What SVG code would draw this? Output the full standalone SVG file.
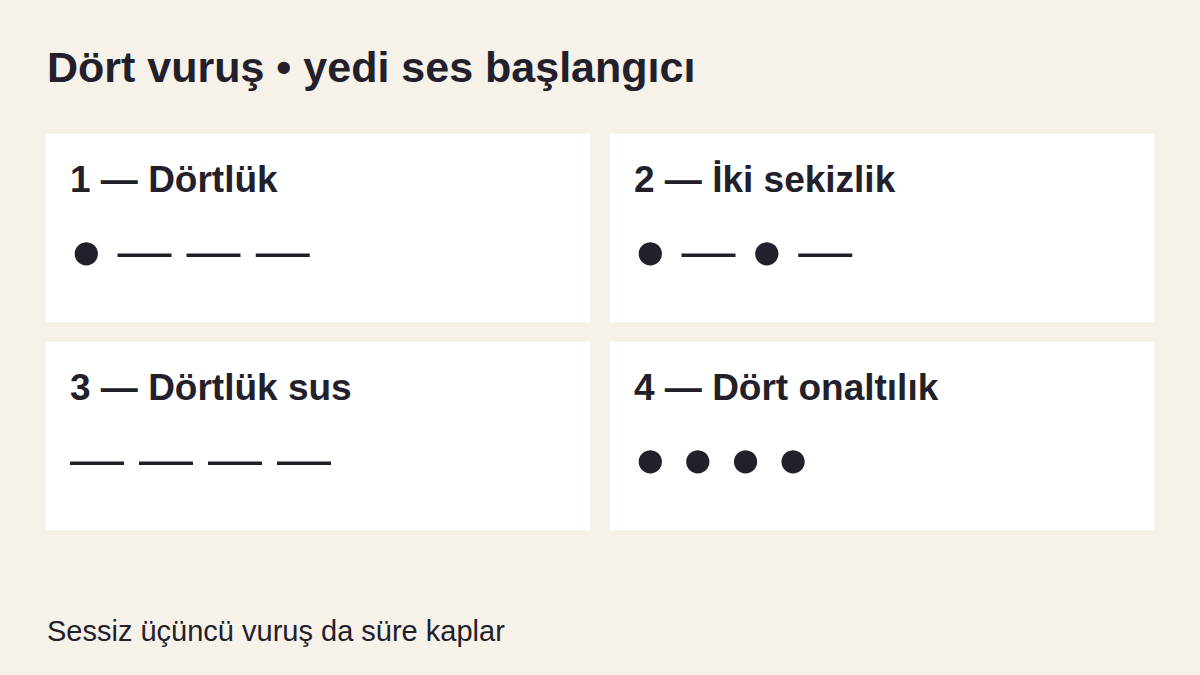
<svg xmlns="http://www.w3.org/2000/svg" width="1200" height="675" viewBox="0 0 1200 675">
<style>
.bg{fill:#f6f2ea}
.card{fill:#ffffff}
.h1{font-family:"Liberation Sans",Arial,sans-serif;font-weight:bold;font-size:43px;fill:#22202b}
.h2{font-family:"Liberation Sans",Arial,sans-serif;font-weight:bold;font-size:37px;fill:#22202b}
.sym{font-family:"Liberation Sans",Arial,sans-serif;font-size:54px;fill:#22202b}
.foot{font-family:"Liberation Sans",Arial,sans-serif;font-size:29px;fill:#22202b}
</style>
<rect class="bg" x="0" y="0" width="1200" height="675"/>
<text class="h1" x="47" y="82">Dört vuruş • yedi ses başlangıcı</text>
<g id="card1">
<rect class="card" x="46" y="134" width="544" height="188" rx="2"/>
<text class="h2" x="70" y="192">1 — Dörtlük</text>
<text class="sym" x="70" y="268.5" xml:space="preserve">● — — —</text>
</g>
<g id="card2">
<rect class="card" x="610" y="134" width="544" height="188" rx="2"/>
<text class="h2" x="634" y="192">2 — İki sekizlik</text>
<text class="sym" x="634" y="268.5" xml:space="preserve">● — ● —</text>
</g>
<g id="card3">
<rect class="card" x="46" y="342" width="544" height="188" rx="2"/>
<text class="h2" x="70" y="400">3 — Dörtlük sus</text>
<text class="sym" x="70" y="476.5" xml:space="preserve">— — — —</text>
</g>
<g id="card4">
<rect class="card" x="610" y="342" width="544" height="188" rx="2"/>
<text class="h2" x="634" y="400">4 — Dört onaltılık</text>
<text class="sym" x="634" y="476.5" xml:space="preserve">● ● ● ●</text>
</g>
<g id="connectors"/>
<text class="foot" x="47" y="641">Sessiz üçüncü vuruş da süre kaplar</text>
</svg>
